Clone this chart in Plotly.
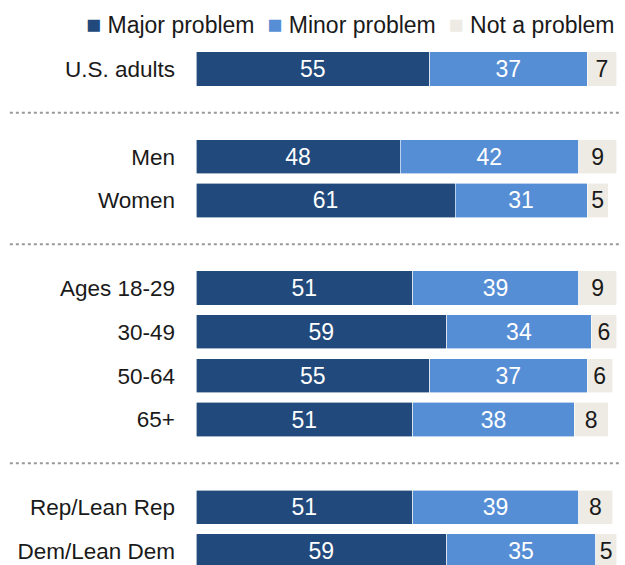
import plotly.graph_objects as go

# ---------- data ----------
groups = ["U.S. adults", "Men", "Women", "Ages 18-29", "30-49", "50-64", "65+",
          "Rep/Lean Rep", "Dem/Lean Dem"]
major = [55, 48, 61, 51, 59, 55, 51, 51, 59]
minor = [37, 42, 31, 39, 34, 37, 38, 39, 35]
not_problem = [7, 9, 5, 9, 6, 6, 8, 8, 5]

# category order, blank rows act as gaps between the groups
row_order = ["U.S. adults", " ", "Men", "Women", "  ", "Ages 18-29", "30-49",
             "50-64", "65+", "   ", "Rep/Lean Rep", "Dem/Lean Dem"]

DARK = "#21497b"
LIGHT = "#568ed5"
BEIGE = "#edebe4"
FONT = "Liberation Sans, Arial, sans-serif"

fig = go.Figure()
for name, vals, col, tcol in [
    ("Major problem", major, DARK, "white"),
    ("Minor problem", minor, LIGHT, "white"),
    ("Not a problem", not_problem, BEIGE, "#1a1a1a"),
]:
    fig.add_bar(
        x=vals, y=groups, orientation="h", name=name,
        marker=dict(color=col, line=dict(color="white", width=0.6)),
        text=vals, textposition="inside", insidetextanchor="middle",
        textfont=dict(color=tcol, size=23, family=FONT),
        constraintext="none", width=0.78, showlegend=False,
        hoverinfo="skip",
    )

# dotted separators on the blank rows
for i, r in enumerate(row_order):
    if r.strip() == "":
        fig.add_shape(type="line", xref="paper", yref="y",
                      x0=-0.438, x1=1.0, y0=i, y1=i,
                      line=dict(color="#999999", width=2, dash="dot"))

# legend drawn as text with coloured squares
sq = "<span style='color:{};font-size:25px'>■</span>"
legend_txt = (sq.format(DARK) + " Major problem  " +
              sq.format(LIGHT) + " Minor problem  " +
              sq.format(BEIGE) + " Not a problem")
fig.add_annotation(text=legend_txt, xref="paper", yref="paper", x=0.99, y=1.011,
                   xanchor="right", yanchor="middle", showarrow=False,
                   font=dict(size=23, family=FONT, color="#1a1a1a"))

fig.update_layout(
    barmode="stack", width=625, height=565,
    margin=dict(l=196, r=4, t=30, b=0),
    plot_bgcolor="white", paper_bgcolor="white",
    font=dict(family=FONT, size=22.5, color="#1a1a1a"),
)
fig.update_xaxes(range=[0, 100], visible=False, fixedrange=True)
fig.update_yaxes(type="category", categoryorder="array", categoryarray=row_order,
                 range=[11.32, -0.89], showgrid=False, zeroline=False, showline=False,
                 ticks="", ticklabelstandoff=20, tickfont=dict(size=22.5, family=FONT),
                 fixedrange=True)

fig.write_html("out.html", config={"displayModeBar": False},
               post_script="document.body.style.margin='0';")
